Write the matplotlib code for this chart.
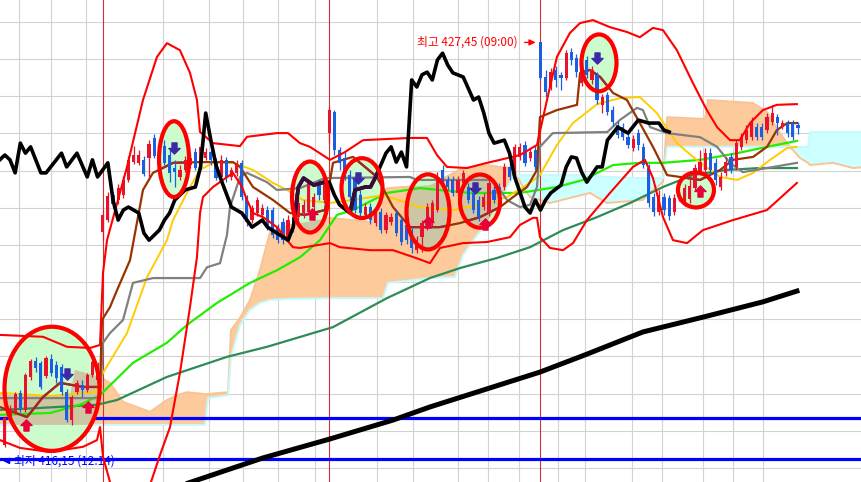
import numpy as np
import matplotlib.pyplot as plt
from matplotlib.patches import Ellipse
from matplotlib.path import Path

plt.rcParams['font.family'] = ['Noto Sans CJK KR', 'DejaVu Sans']

# ---- candles, one per bar (bar index 0..154) ----
opens = [416.62, 417.29, 417.51, 418.02, 417.56, 418.45, 418.88, 418.83, 418.48, 418.93,
         418.77, 418.72, 418.04, 417.29, 418.04, 418.23, 418.10, 418.50, 418.37, 422.35,
         422.67, 423.34, 423.21, 423.34, 423.75, 424.23, 424.21, 424.29, 424.34, 424.88,
         424.56, 424.66, 424.42, 424.07, 423.83, 424.02, 424.15, 424.50, 424.21, 424.34,
         424.50, 424.23, 423.83, 424.29, 423.83, 423.94, 424.21, 423.26, 422.67, 422.86,
         422.81, 422.94, 422.94, 422.46, 422.62, 422.19, 422.75, 422.75, 422.86, 422.89,
         423.02, 423.61, 423.21, 425.01, 425.58, 424.56, 424.34, 423.88, 423.75, 423.34,
         422.81, 423.02, 422.59, 422.89, 422.40, 422.62, 422.86, 422.67, 422.54, 422.35,
         421.86, 422.21, 422.48, 422.59, 422.94, 424.02, 423.75, 423.75, 423.40, 423.67,
         423.56, 423.40, 423.21, 423.02, 422.86, 423.48, 423.56, 423.56, 424.10, 424.02,
         424.37, 424.69, 424.34, 424.56, 427.45, 426.52, 426.25, 426.71, 426.57, 426.49,
         427.19, 427.03, 426.36, 426.98, 426.44, 426.57, 425.77, 426.03, 425.63, 425.23,
         425.17, 424.91, 424.61, 425.01, 424.64, 424.07, 423.29, 422.89, 423.29, 423.26,
         422.89, 423.26, 423.16, 423.24, 423.53, 423.96, 424.02, 424.47, 424.21, 423.56,
         423.94, 424.37, 424.10, 424.64, 424.82, 424.91, 425.17, 425.17, 425.09, 425.31,
         425.44, 425.17, 425.28, 425.28, 425.23]
closes = [417.35, 417.59, 417.99, 417.61, 418.50, 418.88, 418.69, 418.18, 418.96, 418.56,
          418.42, 418.04, 417.29, 417.91, 418.29, 418.10, 418.50, 418.85, 418.72, 422.81,
          423.32, 423.10, 423.53, 423.75, 424.29, 424.42, 424.42, 423.91, 424.72, 424.39,
          424.29, 424.21, 423.94, 423.96, 424.02, 424.29, 424.34, 424.07, 424.64, 424.50,
          424.29, 423.80, 424.29, 423.80, 424.02, 424.18, 423.29, 422.62, 422.99, 423.21,
          422.99, 422.48, 422.27, 422.13, 422.13, 422.67, 422.48, 423.13, 423.08, 423.67,
          423.29, 423.34, 423.75, 425.63, 424.56, 424.21, 423.88, 423.29, 422.94, 422.86,
          423.02, 422.67, 422.86, 422.40, 422.81, 422.75, 422.32, 422.08, 422.13, 421.92,
          422.13, 422.59, 423.02, 423.13, 423.83, 423.69, 423.56, 423.40, 423.75, 423.94,
          423.21, 422.94, 422.75, 423.29, 423.67, 423.21, 423.29, 424.10, 423.83, 424.64,
          424.64, 424.21, 424.50, 424.10, 426.49, 426.12, 426.65, 426.44, 426.49, 427.16,
          426.98, 426.65, 426.79, 426.57, 426.71, 425.90, 425.98, 425.58, 425.31, 424.96,
          424.91, 424.69, 424.85, 424.69, 424.15, 423.13, 422.89, 423.34, 422.94, 422.78,
          423.26, 423.34, 423.53, 423.59, 424.07, 424.23, 424.47, 424.02, 423.75, 423.83,
          424.23, 424.02, 424.74, 424.91, 425.09, 425.28, 424.91, 424.91, 425.44, 425.55,
          425.28, 425.28, 425.01, 424.91, 425.15]
highs = [417.40, 417.70, 418.04, 418.10, 418.56, 418.93, 418.99, 418.88, 419.01, 419.07,
         418.88, 418.80, 418.13, 417.96, 418.37, 418.37, 418.56, 418.91, 418.85, 422.94,
         423.42, 423.42, 423.64, 423.86, 424.39, 424.66, 424.56, 424.39, 424.82, 424.99,
         424.66, 424.82, 424.56, 424.29, 424.15, 424.39, 424.47, 424.61, 424.74, 424.61,
         424.56, 424.34, 424.42, 424.37, 424.10, 424.29, 424.29, 423.34, 423.08, 423.29,
         423.10, 423.05, 423.02, 422.56, 422.73, 422.81, 422.86, 423.26, 423.21, 423.75,
         423.40, 423.75, 423.80, 425.71, 425.63, 424.64, 424.50, 424.02, 423.86, 423.48,
         423.13, 423.13, 422.94, 422.99, 422.89, 422.86, 422.97, 422.78, 422.67, 422.46,
         422.24, 422.67, 423.13, 423.21, 423.96, 424.15, 423.86, 423.86, 423.86, 424.02,
         423.67, 423.48, 423.32, 423.40, 423.75, 423.59, 423.67, 424.21, 424.21, 424.72,
         424.74, 424.80, 424.61, 424.66, 427.45, 426.71, 426.76, 426.81, 426.65, 427.24,
         427.30, 427.14, 426.90, 427.08, 426.81, 426.65, 426.06, 426.11, 425.74, 425.34,
         425.28, 425.01, 424.96, 425.12, 424.74, 424.18, 423.40, 423.48, 423.40, 423.34,
         423.37, 423.42, 423.64, 423.80, 424.18, 424.56, 424.61, 424.61, 424.34, 423.96,
         424.37, 424.47, 424.82, 425.01, 425.23, 425.44, 425.28, 425.28, 425.55, 425.77,
         425.52, 425.36, 425.36, 425.36, 425.31]
lows = [416.57, 417.24, 417.45, 417.51, 417.51, 418.37, 418.58, 418.13, 418.42, 418.48,
        418.29, 417.96, 417.24, 417.16, 417.99, 417.91, 418.04, 418.45, 418.31, 422.13,
        422.62, 422.99, 423.10, 423.26, 423.69, 424.18, 424.15, 423.85, 423.80, 424.34,
        424.15, 424.15, 423.69, 423.56, 423.75, 423.96, 424.07, 424.02, 424.15, 424.29,
        424.15, 423.75, 423.75, 423.69, 423.75, 423.86, 423.21, 422.51, 422.59, 422.78,
        422.73, 422.40, 422.19, 422.05, 422.03, 422.08, 422.35, 422.62, 422.73, 422.81,
        422.94, 423.21, 423.13, 424.74, 424.42, 424.02, 423.75, 423.21, 422.86, 422.78,
        422.73, 422.56, 422.51, 422.32, 422.32, 422.54, 422.24, 422.00, 422.03, 421.78,
        421.78, 421.81, 422.40, 422.51, 422.89, 423.61, 423.48, 423.32, 423.32, 423.59,
        423.13, 422.86, 422.65, 422.94, 422.78, 423.13, 423.21, 423.48, 423.75, 423.94,
        424.29, 424.13, 424.26, 424.02, 426.44, 425.98, 426.17, 426.25, 426.17, 426.44,
        426.84, 426.52, 426.28, 426.49, 426.33, 425.79, 425.55, 425.50, 425.20, 424.88,
        424.82, 424.61, 424.53, 424.56, 424.07, 423.02, 422.78, 422.81, 422.81, 422.67,
        422.81, 423.18, 423.05, 423.13, 423.48, 423.88, 423.94, 423.88, 423.61, 423.48,
        423.86, 423.94, 424.02, 424.56, 424.74, 424.82, 424.82, 424.82, 425.01, 425.23,
        424.96, 425.12, 424.91, 424.82, 424.99]

day_start = [19, 63, 104]
grid_time = [2.75, 8.96, 15.76, 30.71, 39.64, 46.24, 53.04, 60.22, 72.26, 79.25,
             88.0, 93.81, 99.83, 107.41, 112.65, 121.78, 127.6, 135.57, 141.39, 147.21]
grid_price = list(range(416, 429))

# ---- comparison line (black) ----
cmp_x = [-1, 0, 1, 2, 3, 4, 5, 7, 8, 11, 12, 14, 16, 17, 18, 20, 21, 22, 23, 24, 26, 27, 28,
         30, 31, 32, 33, 35, 37, 38, 39, 40, 41, 42, 44, 46, 48, 50, 51, 55, 56, 57, 58, 60,
         62, 63, 64, 65, 67, 68, 70, 71, 72, 74, 75, 76, 77, 78, 79, 80, 81, 82, 83, 84, 85,
         86, 87, 89, 91, 92, 93, 94, 95, 97, 98, 99, 101, 102, 103, 104, 105, 106, 108, 109,
         110, 111, 112, 113, 115, 116, 117, 119, 121, 123, 125, 127, 128, 129]
cmp_y = [424.29, 424.42, 424.29, 423.94, 424.74, 424.47, 424.64, 423.94, 423.94, 424.47,
         424.10, 424.47, 423.83, 424.29, 423.83, 424.21, 423.21, 422.67, 422.94, 423.02,
         422.86, 422.32, 422.13, 422.40, 422.67, 422.86, 423.21, 423.48, 423.56, 424.10,
         425.55, 424.82, 424.15, 423.75, 423.02, 422.86, 422.48, 422.67, 422.48, 422.13,
         422.48, 423.56, 423.80, 423.61, 423.69, 423.69, 423.34, 423.08, 422.86, 423.48,
         423.56, 423.56, 423.83, 424.47, 424.64, 424.23, 424.50, 424.10, 426.44, 426.25,
         426.58, 426.65, 426.44, 426.98, 427.16, 426.84, 426.63, 426.52, 425.90, 425.98,
         425.55, 425.01, 424.74, 424.82, 424.47, 423.83, 423.02, 422.86, 423.21, 422.94,
         423.21, 423.40, 423.61, 424.10, 424.37, 424.34, 423.96, 423.69, 424.10, 424.10,
         424.82, 425.17, 425.01, 425.36, 425.28, 425.28, 425.09, 425.04]

# ---- long moving average (black, thick) ----
ma_long_x = [34, 50.1, 63.1, 75.4, 82.5, 103.9, 112.6, 123.9, 135.6, 147.2, 153.8]
ma_long_y = [415.52, 416.27, 416.78, 417.29, 417.64, 418.58, 419.04, 419.66, 420.06, 420.47, 420.76]

# ---- bollinger bands ----
bb_up_x = [-0.94, 7.41, 12.07, 16.53, 18.48, 19.06, 19.84, 23.72, 26.82, 29.54, 31.48, 34.0,
           35.95, 37.3, 37.9, 40.4, 45.66, 47.02, 52.84, 54.98, 57.31, 59.25, 63.14, 66.05,
           69.54, 78.67, 81.97, 83.91, 85.85, 89.73, 93.63, 96.15, 100.03, 103.33, 105.27,
           107.2, 109.7, 111.68, 114.2, 117.5, 120.8, 123.3, 125.85, 127.8, 130.5, 133.6,
           136.3, 138.3, 140.8, 142.7, 144.7, 147.2, 149.9, 153.8]
bb_up_y = [419.58, 419.53, 419.26, 419.23, 419.31, 421.25, 422.13, 424.10, 425.90, 427.06,
           427.43, 427.24, 426.63, 425.90, 425.04, 424.74, 424.66, 424.91, 425.01, 425.01,
           424.74, 424.64, 424.29, 424.50, 424.82, 424.88, 424.88, 424.42, 424.10, 424.07,
           424.21, 424.29, 424.42, 424.69, 425.90, 427.06, 427.70, 427.97, 428.05, 427.86,
           427.73, 427.59, 427.84, 427.78, 427.24, 426.36, 425.63, 425.17, 424.82, 424.82,
           425.28, 425.63, 425.77, 425.79]
bb_dn_x = [-0.94, 2.94, 8.77, 15.17, 17.89, 18.48, 19.06, 20.42, 21.39, 23.91, 26.24, 28.18,
           30.13, 32.07, 34.0, 35.95, 37.3, 37.9, 38.47, 40.42, 44.3, 46.05, 47.02, 48.18,
           50.13, 52.84, 54.79, 55.95, 57.31, 63.14, 65.08, 70.9, 75.37, 80.03, 82.55, 84.5,
           88.96, 93.63, 98.09, 100.03, 102.55, 103.33, 103.91, 105.85, 108.38, 110.32,
           113.04, 117.5, 121.97, 124.3, 125.85, 127.8, 129.74, 132.46, 135.56, 141.39,
           147.99, 153.8]
bb_dn_y = [416.75, 416.54, 416.43, 416.57, 416.75, 417.10, 416.30, 415.62, 414.60, 413.93,
           414.60, 415.54, 416.35, 417.10, 418.56, 420.33, 421.67, 422.86, 423.29, 423.56,
           423.94, 423.56, 423.21, 422.86, 422.75, 422.48, 422.13, 421.94, 421.92, 422.05,
           421.94, 421.86, 421.86, 421.64, 421.51, 421.92, 422.05, 422.08, 422.21, 422.54,
           422.73, 422.73, 422.21, 421.92, 421.86, 422.05, 422.67, 423.40, 424.10, 424.29,
           423.80, 422.75, 422.13, 422.05, 422.40, 422.67, 422.94, 423.67]

# ---- moving averages ----
ma_yel_x = [-0.94, 8.77, 17.5, 19.06, 23.72, 27.6, 31.48, 32.65, 35.95, 37.9, 40.4, 44.3, 48.18,
            52.07, 54.79, 57.9, 63.14, 67.6, 73.43, 80.6, 87.02, 93.63, 97.5, 101.97, 103.9,
            107.2, 110.3, 115.0, 119.4, 123.3, 126.6, 130.5, 135.0, 138.9, 142.2, 145.3, 148.6,
            151.9, 153.8]
ma_yel_y = [418.02, 417.94, 418.04, 418.56, 419.63, 421.13, 422.13, 422.67, 423.56, 424.02,
            424.21, 424.21, 424.02, 423.67, 423.48, 423.21, 423.13, 423.21, 423.34, 423.02,
            422.94, 423.13, 423.29, 423.67, 423.88, 424.69, 425.28, 425.79, 425.95, 425.98,
            425.55, 424.74, 424.21, 423.83, 423.75, 423.94, 424.29, 424.61, 424.64]
ma_lime_x = [-0.94, 8.77, 14.59, 18.48, 24.88, 31.48, 35.37, 41.19, 47.6, 52.84, 57.31, 61.2,
             64.5, 67.6, 74.2, 80.6, 90.3, 100.0, 107.2, 112.3, 118.1, 123.3, 127.8, 135.0,
             142.2, 148.0, 153.8]
ma_lime_y = [417.43, 417.48, 417.70, 417.96, 418.83, 419.37, 419.85, 420.44, 420.98, 421.32,
             421.67, 422.13, 422.81, 422.94, 423.40, 423.53, 423.40, 423.40, 423.56, 423.75,
             424.15, 424.21, 424.21, 424.29, 424.47, 424.64, 424.80]
ma_sea_x = [-0.94, 7.41, 17.9, 21.8, 31.48, 43.13, 50.9, 63.72, 74.2, 82.55, 88.4, 95.56,
            101.97, 108.38, 115.0, 121.4, 127.8, 133.6, 140.2, 146.6, 153.8]
ma_sea_y = [417.56, 417.62, 417.70, 417.83, 418.45, 418.99, 419.26, 419.79, 420.57, 421.11,
            421.38, 421.65, 421.94, 422.40, 422.75, 423.13, 423.56, 423.88, 424.02, 424.07,
            424.07]
kijun_x = [-0.94, 18.48, 19.06, 20.42, 22.94, 24.88, 28.76, 37.9, 39.25, 41.78, 43.13, 43.72,
           45.66, 47.02, 50.9, 52.84, 57.31, 62.17, 78.67, 80.03, 94.78, 97.5, 100.0, 101.97,
           103.33, 103.9, 106.4, 117.0, 119.4, 122.75, 123.9, 125.3, 128.6, 135.0, 138.3,
           140.8, 143.3, 148.0, 153.8]
kijun_y = [417.88, 417.88, 419.37, 419.63, 419.98, 420.98, 421.11, 421.11, 421.40, 421.51,
           422.27, 423.02, 423.83, 423.94, 423.69, 423.48, 423.53, 423.80, 423.83, 423.75,
           423.75, 423.21, 423.02, 423.08, 423.56, 424.64, 425.01, 425.04, 425.36, 425.69,
           425.63, 425.17, 425.01, 424.90, 424.64, 424.21, 423.96, 424.07, 424.21]
tenkan_x = [-0.94, 4.3, 7.41, 10.71, 15.17, 18.48, 18.86, 20.42, 21.8, 24.3, 26.82, 28.76,
            32.65, 37.9, 44.3, 45.66, 48.18, 52.07, 55.37, 58.28, 62.17, 63.72, 67.6, 72.26,
            75.37, 78.67, 84.5, 88.4, 92.26, 96.15, 98.7, 101.4, 103.33, 103.9, 107.2, 111.1,
            111.7, 113.6, 115.6, 118.1, 120.8, 123.3, 125.85, 128.6, 135.0, 138.9, 141.4,
            145.3, 148.0, 149.9, 151.9, 153.8]
tenkan_y = [417.64, 417.37, 417.91, 418.29, 418.18, 418.18, 419.98, 420.33, 420.79, 421.59,
            423.48, 423.94, 424.21, 424.23, 424.23, 424.10, 423.56, 423.21, 422.86, 422.81,
            422.94, 424.21, 424.37, 423.83, 423.02, 422.48, 422.48, 422.59, 422.75, 423.02,
            423.29, 423.56, 424.02, 425.44, 425.63, 425.77, 426.63, 426.71, 426.52, 426.09,
            425.90, 425.28, 424.64, 423.88, 423.75, 424.02, 424.29, 424.37, 424.64, 425.09,
            425.28, 425.28]

# ---- ichimoku cloud (leading spans) ----
cloud_x = [-0.94, 12.65, 13.62, 18.48, 20.42, 22.94, 26.24, 28.18, 31.48, 33.43, 35.37, 38.86,
           39.45, 43.33, 43.91, 45.66, 47.6, 49.54, 51.49, 55.37, 63.14, 70.9, 73.43, 74.4,
           82.55, 87.41, 88.96, 91.29, 93.63, 96.15, 98.66, 100.4, 101.97, 105.85, 113.62,
           116.92, 123.9, 125.85, 127.8, 128.6, 135.95, 136.53, 145.27, 147.99, 150.5, 152.46,
           154.4, 155.96, 156.34, 160.8, 164.7, 167.2]
span_a = [417.96, 417.96, 418.64, 418.45, 418.29, 417.78, 417.61, 417.51, 417.83, 417.96,
          418.04, 417.99, 417.99, 418.04, 419.71, 420.04, 420.52, 421.33, 422.35, 422.54,
          422.73, 422.62, 423.48, 423.53, 423.61, 423.96, 424.07, 424.10, 424.15, 424.10,
          424.07, 423.61, 423.29, 423.13, 423.40, 423.13, 423.21, 423.48, 423.69, 425.44,
          425.39, 425.90, 425.82, 425.58, 425.01, 424.64, 424.34, 424.21, 424.15, 424.21,
          424.07, 424.10]
span_b = [417.16, 417.16, 417.16, 417.16, 417.16, 417.16, 417.16, 417.16, 417.16, 417.16,
          417.16, 417.16, 417.88, 417.96, 418.99, 419.85, 420.25, 420.44, 420.52, 420.55,
          420.57, 420.57, 420.57, 420.98, 421.11, 421.14, 421.73, 422.19, 422.59, 423.21,
          423.83, 423.88, 423.88, 423.88, 423.88, 423.83, 423.80, 423.80, 423.80, 424.64,
          424.64, 424.64, 424.64, 424.64, 424.64, 424.64, 424.64, 424.64, 425.04, 425.04,
          425.04, 425.04]

# reference lines
ref_prev = 417.34
ref_low = 416.24
day_high, day_low = 427.45, 416.15

# signal zones: (bar, price, width in bars, height in price)
zones = [(9.16, 418.13, 18.45, 3.34), (32.85, 424.31, 5.83, 2.04), (59.25, 423.29, 6.99, 1.91),
         (69.35, 423.53, 7.96, 1.61), (82.17, 422.89, 8.35, 2.02), (92.26, 423.18, 7.77, 1.43),
         (115.37, 426.90, 6.8, 1.53), (134.2, 423.48, 6.99, 0.94)]
buy_x = [4.1, 16.15, 59.6, 82.17, 93.23, 135.0]
buy_y = [417.16, 417.64, 422.84, 422.62, 422.56, 423.45]
sell_x = [12.07, 32.85, 68.57, 91.29, 115.0]
sell_y = [418.53, 424.61, 423.80, 423.53, 427.03]

RED = '#e8122c'
BLUE = '#1a5fe0'
PEACH = '#fdcb9b'
CYAN = '#ccffff'
TAN = '#cdc6a5'

fig = plt.figure(figsize=(8.62, 4.82), dpi=100)
ax = fig.add_axes([0, 0, 1, 1])
ax.set_xlim(-0.942, 166.44)
ax.set_ylim(415.623, 428.591)
ax.set_axis_off()

for g in grid_price:
    ax.axhline(g, color='#d2d2d2', lw=0.8, zorder=0)
for g in grid_time:
    ax.axvline(g, color='#d2d2d2', lw=0.8, zorder=0)

# cloud
cx = np.array(cloud_x)
sa = np.array(span_a)
sb = np.array(span_b)
ax.fill_between(cx, sa, sb, where=sa >= sb, interpolate=True, color=PEACH, lw=0, zorder=1)
ax.fill_between(cx, sa, sb, where=sa < sb, interpolate=True, color=CYAN, lw=0, zorder=1)
ax.plot(cx, sa, color='#f8c496', lw=1.4, zorder=1.2)
ax.plot(cx, sb, color='#c4fafc', lw=1.4, zorder=1.2)

for d in day_start:
    ax.axvline(d, color='#cc3333', lw=0.8, zorder=1.5)

ax.axhline(ref_prev, color='#0000ff', lw=2.3, zorder=2)
ax.axhline(ref_low, color='#0000ff', lw=2.3, zorder=2)

# signal zone fill, cloud seen through it in a darker tone
zone_patches = []
for zx, zy, zw, zh in zones:
    e = Ellipse((zx, zy), zw, zh, fc='#ccfccc', ec='none', zorder=2.5)
    ax.add_patch(e)
    zone_patches.append(e)
    pc = ax.fill_between(cx, sa, sb, where=sa >= sb, interpolate=True, color=TAN, lw=0, zorder=2.6)
    pc.set_clip_path(e)

ax.plot(ma_long_x, ma_long_y, color='black', lw=3.6, zorder=3)
ax.plot(ma_sea_x, ma_sea_y, color='#2e8b57', lw=1.6, zorder=3)
ax.plot(ma_lime_x, ma_lime_y, color='#22ee00', lw=1.6, zorder=3)
ax.plot(ma_yel_x, ma_yel_y, color='#ffcc00', lw=1.4, zorder=3)
ax.plot(kijun_x, kijun_y, color='#808080', lw=1.6, zorder=3)
ax.plot(tenkan_x, tenkan_y, color='#993300', lw=1.6, zorder=3)
for e in zone_patches:
    ln, = ax.plot(tenkan_x, tenkan_y, color='#a02828', lw=1.6, zorder=3.1)
    ln.set_clip_path(e)

# candles
idx = np.arange(len(opens))
o, c, h, l = (np.array(v) for v in (opens, closes, highs, lows))
col = np.where(c >= o, RED, BLUE)
ax.vlines(idx, l, h, colors=col, lw=0.9, zorder=4)
ax.bar(idx, np.maximum(np.abs(c - o), 0.04), bottom=np.minimum(o, c), width=0.62,
       color=col, lw=0, zorder=4)

ax.plot(bb_up_x, bb_up_y, color='#ff0000', lw=1.5, zorder=5)
ax.plot(bb_dn_x, bb_dn_y, color='#ff0000', lw=1.5, zorder=5)
ax.plot(cmp_x, cmp_y, color='black', lw=2.6, zorder=5.5)
for e in zone_patches:
    ln, = ax.plot(cmp_x, cmp_y, color='#3a0a3a', lw=2.6, zorder=5.6)
    ln.set_clip_path(e)

for zx, zy, zw, zh in zones:
    ax.add_patch(Ellipse((zx, zy), zw, zh, fc='none', ec='#ff0000', lw=3.0, zorder=6))

up_arrow = Path([(0, 1), (-1, 0), (-0.45, 0), (-0.45, -1), (0.45, -1), (0.45, 0), (1, 0), (0, 1)],
                [Path.MOVETO] + [Path.LINETO] * 6 + [Path.CLOSEPOLY])
down_arrow = Path([(x, -y) for x, y in up_arrow.vertices], up_arrow.codes)
ax.plot(buy_x, buy_y, ls='none', marker=up_arrow, ms=8, color='#e8003a', zorder=7)
ax.plot(sell_x, sell_y, ls='none', marker=down_arrow, ms=8, color='#3a2aa8', zorder=7)

ax.annotate('', xy=(day_start[2] - 0.4, day_high), xytext=(100.4, day_high),
            arrowprops=dict(arrowstyle='-|>', color='#ff0000', lw=1.0, mutation_scale=9), zorder=8)
ax.text(99.6, day_high, '최고 427,45 (09:00)', color='#ff0000', fontsize=8.5,
        ha='right', va='center', zorder=8)
ax.annotate('', xy=(-0.9, 416.19), xytext=(1.5, 416.19),
            arrowprops=dict(arrowstyle='-|>', color='#0000ff', lw=1.0, mutation_scale=9), zorder=8)
ax.text(1.8, 416.19, '최저 416,15 (12:14)', color='#0000ff', fontsize=8.5,
        ha='left', va='center', zorder=1.9)

fig.savefig('out.png', dpi=100)
